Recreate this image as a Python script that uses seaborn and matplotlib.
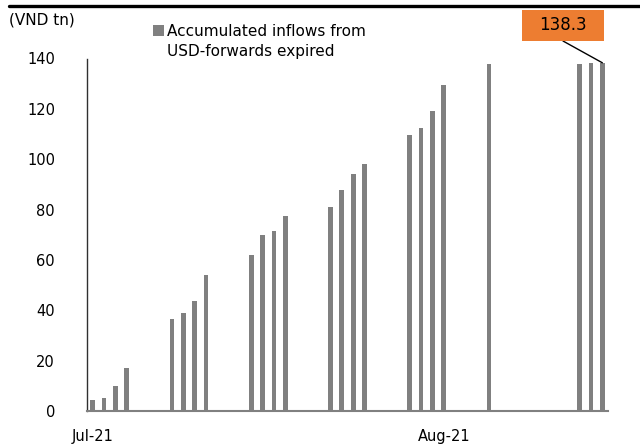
import matplotlib
matplotlib.use("Agg")
import matplotlib.pyplot as plt
from matplotlib.lines import Line2D
from matplotlib.patches import Rectangle
import seaborn as sns
import pandas as pd

# Expiry dates and the running total of inflows (VND tn)
dates = [
    "2021-07-05", "2021-07-06", "2021-07-07", "2021-07-08",
    "2021-07-12", "2021-07-13", "2021-07-14", "2021-07-15",
    "2021-07-19", "2021-07-20", "2021-07-21", "2021-07-22",
    "2021-07-26", "2021-07-27", "2021-07-28", "2021-07-29",
    "2021-08-02", "2021-08-03", "2021-08-04", "2021-08-05",
    "2021-08-09",
    "2021-08-17", "2021-08-18", "2021-08-19",
]
inflows = [
    4.5, 5.0, 9.8, 16.9,
    36.7, 39.0, 43.6, 54.0,
    62.1, 69.9, 71.3, 77.3,
    81.0, 87.6, 94.3, 98.2,
    109.8, 112.3, 119.2, 129.4,
    137.7,
    137.7, 138.1, 138.3,
]
tick_dates = ["2021-07-05", "2021-08-05"]
tick_labels = ["Jul-21", "Aug-21"]
y_ticks = [0, 20, 40, 60, 80, 100, 120, 140]
legend_label = "Accumulated inflows from\nUSD-forwards expired"
unit_label = "(VND tn)"

sns.set_theme(style="white")
plt.rcParams["font.family"] = ["DejaVu Sans"]
plt.rcParams["text.color"] = "black"
plt.rcParams["xtick.color"] = "black"
plt.rcParams["ytick.color"] = "black"

start = pd.Timestamp(dates[0])
df = pd.DataFrame({
    "day": [(pd.Timestamp(d) - start).days for d in dates],
    "value": inflows,
})
tick_pos = [(pd.Timestamp(d) - start).days for d in tick_dates]
last_day = df["day"].iloc[-1]

fig = plt.figure(figsize=(6.4, 4.46), dpi=100)
W, H = 640, 446
ax = fig.add_axes([87 / W, 1 - 411 / H, (608 - 87) / W, (411 - 58.5) / H])

bar_color = "#808080"
sns.barplot(data=df, x="day", y="value", native_scale=True, width=0.42,
            color=bar_color, saturation=1, linewidth=0, ax=ax)

ax.set_xlim(-0.5, last_day + 0.5)
ax.set_ylim(0, 140)
ax.set_xlabel("")
ax.set_ylabel("")

fs = 10.5
fs_text = 11

# y axis
ax.set_yticks(y_ticks)
ax.set_yticklabels([str(v) for v in y_ticks], fontsize=fs)
ax.tick_params(axis="y", direction="in", length=6, width=1, color="#808080",
               labelcolor="black", pad=23)

# x axis: labels at slot centres, tick marks on slot boundaries
ax.set_xticks(tick_pos)
ax.set_xticklabels(tick_labels, fontsize=fs)
ax.tick_params(axis="x", which="major", length=0, pad=13, labelcolor="black")
ax.set_xticks([p - 0.5 for p in tick_pos], minor=True)
ax.tick_params(axis="x", which="minor", direction="in", length=5, width=1, color="#404040")

for side in ("top", "right"):
    ax.spines[side].set_visible(False)
ax.spines["left"].set_color("#303030")
ax.spines["left"].set_linewidth(1.0)
ax.spines["bottom"].set_color("#808080")
ax.spines["bottom"].set_linewidth(1.5)

# thick rule across the top
fig.add_artist(Line2D([9 / W, 1.0], [1 - 5.5 / H, 1 - 5.5 / H],
                      transform=fig.transFigure, color="black", linewidth=2.4))

# unit label
fig.text(9 / W, 1 - 20 / H, unit_label, fontsize=fs_text, ha="left", va="center")

# legend
fig.add_artist(Rectangle((153 / W, 1 - 36 / H), 11 / W, 11 / H,
                         transform=fig.transFigure, facecolor=bar_color,
                         edgecolor="none"))
fig.text(167 / W, 1 - 41.5 / H, legend_label, fontsize=fs_text, ha="left",
         va="center", linespacing=1.4)

# value callout for the latest total
box_l, box_r, box_t, box_b = 522, 604, 10, 41
fig.add_artist(Rectangle((box_l / W, 1 - box_b / H), (box_r - box_l) / W,
                         (box_b - box_t) / H, transform=fig.transFigure,
                         facecolor="#ED7D31", edgecolor="none"))
cx = (box_l + box_r) / 2
fig.text(cx / W, 1 - (box_t + box_b) / 2 / H, f"{inflows[-1]:.1f}",
         fontsize=12, ha="center", va="center", color="black")
ax.annotate("", xy=(last_day, inflows[-1]), xytext=(cx, H - box_b),
            textcoords="figure pixels",
            arrowprops=dict(arrowstyle="-", color="black", lw=1,
                            shrinkA=0, shrinkB=0))

fig.savefig("out.png", dpi=100)
